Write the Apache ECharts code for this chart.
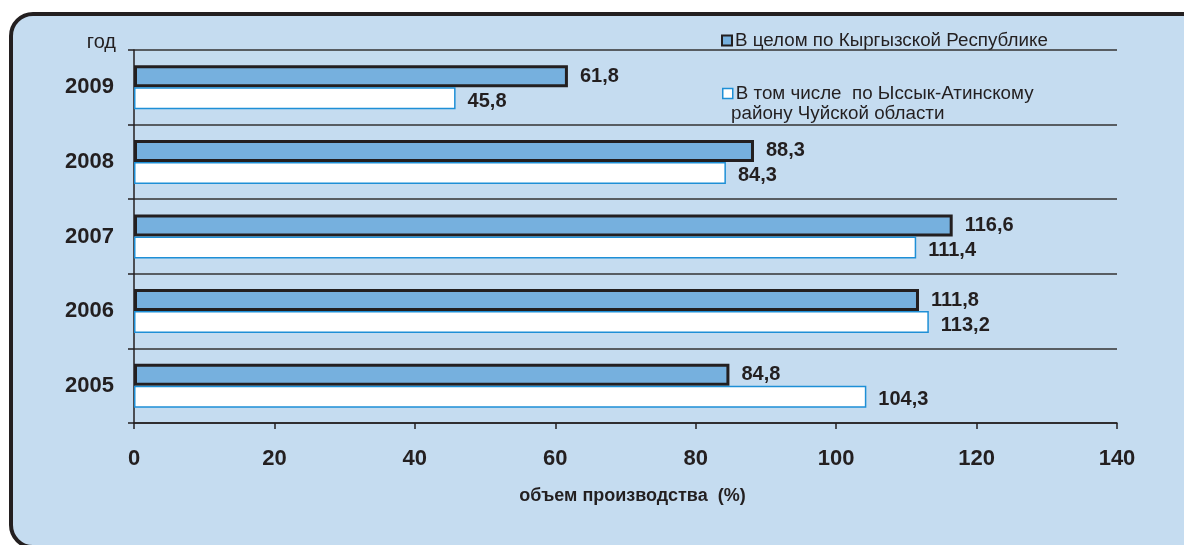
<!DOCTYPE html>
<html>
<head>
<meta charset="utf-8">
<script src="https://cdn.jsdelivr.net/npm/echarts@6/dist/echarts.min.js"></script>
<style>
  html, body { margin: 0; padding: 0; background: #fff; }
  #main { width: 1184px; height: 545px; }
</style>
</head>
<body>
<div id="main"></div>
<script>
// годы (снизу вверх)
var years = ['2005', '2006', '2007', '2008', '2009'];
// в целом по республике
var kgValues = [84.8, 111.8, 116.6, 88.3, 61.8];
// Ыссык-Атинский район
var districtValues = [104.3, 113.2, 111.4, 84.3, 45.8];
var xTicks = [0, 20, 40, 60, 80, 100, 120, 140];

var nameKg = 'В целом по Кыргызской Республике';
var nameDistrict = 'В том числе по Ыссык-Атинскому району Чуйской области';

var dark = '#231f20';
var font = 'Liberation Sans, Arial, sans-serif';

var myChart = echarts.init(document.getElementById('main'));

function fmt(p) {
  return String(p.value).replace('.', ',');
}

myChart.setOption({
  animation: false,
  textStyle: { fontFamily: font },
  graphic: [
    {
      type: 'rect',
      z: -10,
      shape: { x: 11, y: 14, width: 1210, height: 533, r: 22 },
      style: { fill: '#c5dcf0', stroke: dark, lineWidth: 4 }
    },
    {
      type: 'text',
      left: 731,
      top: 104,
      style: { text: 'району Чуйской области', fill: dark, font: '18.8px ' + font }
    }
  ],
  grid: { left: 134, right: 67, top: 50, bottom: 122 },
  legend: [
    {
      left: 716, top: 26,
      itemWidth: 10, itemHeight: 10, itemGap: 4,
      textStyle: { color: dark, fontSize: 18.8, padding: [0, 0, 0, -2] },
      data: [{ name: nameKg, icon: 'rect', itemStyle: { borderColor: dark, borderWidth: 2 } }]
    },
    {
      left: 717, top: 79,
      itemWidth: 10, itemHeight: 10,
      textStyle: { color: dark, fontSize: 18.8, padding: [0, 0, 0, -2] },
      formatter: function () { return 'В том числе  по Ыссык-Атинскому'; },
      data: [{ name: nameDistrict, icon: 'rect', itemStyle: { borderColor: '#1e8fd6', borderWidth: 1.5 } }]
    }
  ],
  xAxis: {
    type: 'value',
    min: 0, max: 140, interval: 20,
    name: 'объем производства  (%)',
    nameLocation: 'middle',
    nameGap: 64,
    nameTextStyle: { color: dark, fontSize: 18, fontWeight: 'bold', padding: [0, 0, 0, 14] },
    axisLine: { show: true, lineStyle: { color: dark, width: 1.5 } },
    axisTick: { show: true, length: 6, lineStyle: { color: dark, width: 1.5 } },
    axisLabel: {
      margin: 25, color: dark, fontSize: 22, fontWeight: 'bold',
      formatter: function (v) { return xTicks.indexOf(v) >= 0 ? v : ''; }
    },
    splitLine: { show: false }
  },
  yAxis: {
    type: 'category',
    data: years,
    name: 'год',
    nameLocation: 'end',
    nameGap: -2,
    nameTextStyle: { color: dark, fontSize: 20, align: 'right', verticalAlign: 'bottom', padding: [0, 18, 0, 0] },
    axisLine: { show: true, lineStyle: { color: dark, width: 1.5 } },
    axisTick: { show: true, length: 6, lineStyle: { color: dark, width: 1.5 } },
    axisLabel: { margin: 20, color: dark, fontSize: 22, fontWeight: 'bold' },
    splitLine: { show: true, lineStyle: { color: '#333', width: 1.5 } }
  },
  series: [
    {
      name: nameKg,
      type: 'bar',
      data: kgValues,
      barWidth: 22,
      barGap: '0%',
      itemStyle: { color: '#76b0de', borderColor: dark, borderWidth: 3 },
      label: {
        show: true, position: 'right', distance: 12, offset: [0, 0],
        color: dark, fontSize: 20, fontWeight: 'bold', formatter: fmt
      }
    },
    {
      name: nameDistrict,
      type: 'bar',
      data: districtValues,
      barWidth: 22,
      barGap: '0%',
      itemStyle: { color: '#ffffff', borderColor: '#1e8fd6', borderWidth: 1.5 },
      label: {
        show: true, position: 'right', distance: 12, offset: [0, 3],
        color: dark, fontSize: 20, fontWeight: 'bold', formatter: fmt
      }
    }
  ]
});
</script>
</body>
</html>
